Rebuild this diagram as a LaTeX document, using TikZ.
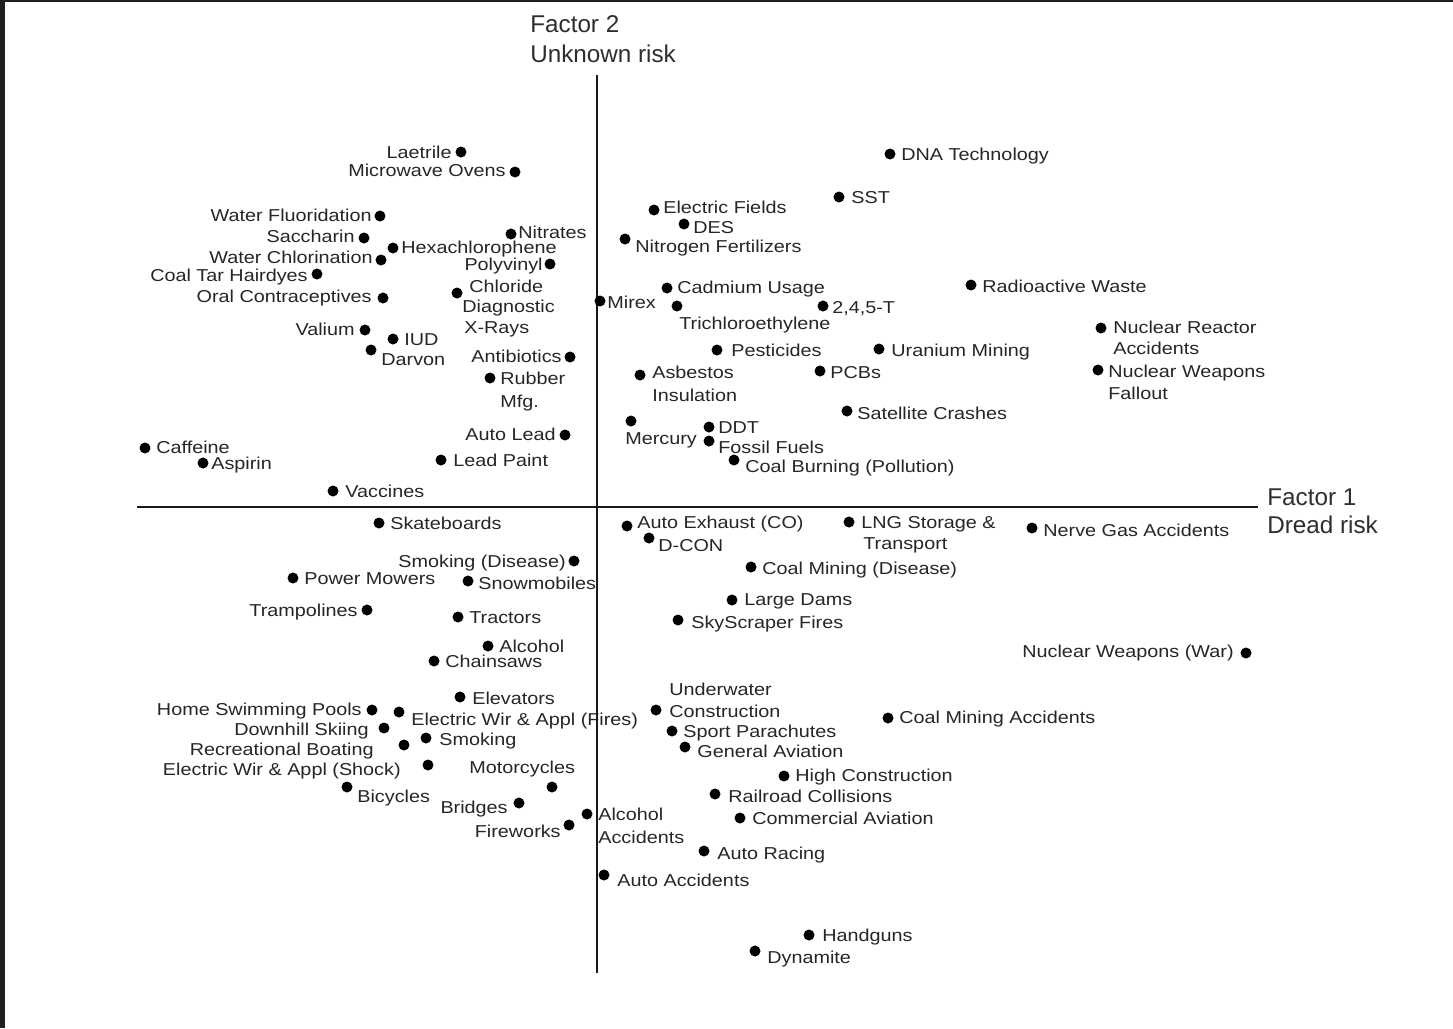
\documentclass[tikz,border=0pt]{standalone}
\usepackage{graphicx}
\usepackage{fontspec}
\setmainfont{Liberation Sans}
\newcommand\hz[1]{\scalebox{1.15}[1]{#1}}
\tikzset{
  dot/.style={circle, fill=black, inner sep=0pt, minimum size=0.22cm},
  lbl/.style={inner sep=0pt, text=black!85, font=\fontsize{9.8}{11.5}\selectfont},
  ll/.style={lbl, anchor=base west},
  lr/.style={lbl, anchor=base east},
  axlbl/.style={inner sep=0pt, anchor=base west, text=black!82, font=\fontsize{13.8}{16}\selectfont},
  axis/.style={line width=1pt, draw=black!90}
}
\begin{document}
\begin{tikzpicture}[x=0.02cm, y=-0.02cm]
\useasboundingbox (0,0) rectangle (1453,1028);
\fill[white] (0,0) rectangle (1453,1028);
\fill[black!88] (0,0) rectangle (5,1028);
\fill[black!88] (0,0) rectangle (1453,2);
% axes
\coordinate (vtop) at (597,75);
\coordinate (vbot) at (597,973);
\coordinate (hl) at (137,507);
\coordinate (hr) at (1258,507);
\draw[axis] (vtop) -- (vbot);
\draw[axis] (hl) -- (hr);
\node[axlbl] (f2a) at (530,32) {Factor 2};
\node[axlbl] (f2b) at (530,62) {Unknown risk};
\node[axlbl] (f1a) at (1267,505) {Factor 1};
\node[axlbl] (f1b) at (1267,533) {Dread risk};
% upper left
\node[dot] (d1) at (461,152) {}; \node[lr] (t1) at (452,158) {\hz{Laetrile}};
\node[dot] (d2) at (515,172) {}; \node[lr] (t2) at (506,176) {\hz{Microwave Ovens}};
\node[dot] (d3) at (380,216) {}; \node[lr] (t3) at (372,221) {\hz{Water Fluoridation}};
\node[dot] (d4) at (364,238) {}; \node[lr] (t4) at (355,242) {\hz{Saccharin}};
\node[dot] (d5) at (393,248) {}; \node[ll] (t5) at (401,253) {\hz{Hexachlorophene}};
\node[dot] (d6) at (381,260) {}; \node[lr] (t6) at (373,263) {\hz{Water Chlorination}};
\node[dot] (d7) at (317,274) {}; \node[lr] (t7) at (308,281) {\hz{Coal Tar Hairdyes}};
\node[dot] (d8) at (383,298) {}; \node[lr] (t8) at (372,302) {\hz{Oral Contraceptives}};
\node[dot] (d9) at (511,234) {}; \node[ll] (t9) at (518,238) {\hz{Nitrates}};
\node[dot] (d10) at (550,264) {}; \node[lr] (t10) at (543,270) {\hz{Polyvinyl}};
\node[ll] (t10b) at (469,292) {\hz{Chloride}};
\node[dot] (d10c) at (457,293) {};
\node[ll] (t10c) at (462,312) {\hz{Diagnostic}};
\node[ll] (t10d) at (464,333) {\hz{X-Rays}};
\node[dot] (d11) at (600,301) {}; \node[ll] (t11) at (607,308) {\hz{Mirex}};
\node[dot] (d12) at (365,330) {}; \node[lr] (t12) at (355,335) {\hz{Valium}};
\node[dot] (d13) at (393,339) {}; \node[ll] (t13) at (404,345) {\hz{IUD}};
\node[dot] (d14) at (371,350) {}; \node[ll] (t14) at (381,365) {\hz{Darvon}};
\node[dot] (d15) at (570,357) {}; \node[lr] (t15) at (562,362) {\hz{Antibiotics}};
\node[dot] (d16) at (490,378) {}; \node[ll] (t16) at (500,384) {\hz{Rubber}};
\node[ll] (t16b) at (500,407) {\hz{Mfg.}};
\node[dot] (d17) at (565,435) {}; \node[lr] (t17) at (556,440) {\hz{Auto Lead}};
\node[dot] (d18) at (441,460) {}; \node[ll] (t18) at (453,466) {\hz{Lead Paint}};
\node[dot] (d19) at (145,448) {}; \node[ll] (t19) at (156,453) {\hz{Caffeine}};
\node[dot] (d20) at (203,463) {}; \node[ll] (t20) at (211,469) {\hz{Aspirin}};
\node[dot] (d21) at (333,491) {}; \node[ll] (t21) at (345,497) {\hz{Vaccines}};
% upper right
\node[dot] (d22) at (890,154) {}; \node[ll] (t22) at (901,160) {\hz{DNA Technology}};
\node[dot] (d23) at (839,197) {}; \node[ll] (t23) at (851,203) {\hz{SST}};
\node[dot] (d24) at (654,210) {}; \node[ll] (t24) at (663,213) {\hz{Electric Fields}};
\node[dot] (d25) at (684,224) {}; \node[ll] (t25) at (693,233) {\hz{DES}};
\node[dot] (d26) at (625,239) {}; \node[ll] (t26) at (635,252) {\hz{Nitrogen Fertilizers}};
\node[dot] (d27) at (667,288) {}; \node[ll] (t27) at (677,293) {\hz{Cadmium Usage}};
\node[dot] (d28) at (677,306) {}; \node[ll] (t28) at (679,329) {\hz{Trichloroethylene}};
\node[dot] (d29) at (823,306) {}; \node[ll] (t29) at (832,313) {\hz{2,4,5-T}};
\node[dot] (d30) at (971,285) {}; \node[ll] (t30) at (982,292) {\hz{Radioactive Waste}};
\node[dot] (d31) at (1101,328) {}; \node[ll] (t31) at (1113,333) {\hz{Nuclear Reactor}};
\node[ll] (t31b) at (1113,354) {\hz{Accidents}};
\node[dot] (d32) at (1098,370) {}; \node[ll] (t32) at (1108,377) {\hz{Nuclear Weapons}};
\node[ll] (t32b) at (1108,399) {\hz{Fallout}};
\node[dot] (d33) at (717,350) {}; \node[ll] (t33) at (731,356) {\hz{Pesticides}};
\node[dot] (d34) at (879,349) {}; \node[ll] (t34) at (891,356) {\hz{Uranium Mining}};
\node[dot] (d35) at (640,375) {}; \node[ll] (t35) at (652,378) {\hz{Asbestos}};
\node[ll] (t35b) at (652,401) {\hz{Insulation}};
\node[dot] (d36) at (820,371) {}; \node[ll] (t36) at (830,378) {\hz{PCBs}};
\node[dot] (d37) at (847,411) {}; \node[ll] (t37) at (857,419) {\hz{Satellite Crashes}};
\node[dot] (d38) at (631,421) {}; \node[ll] (t38) at (625,444) {\hz{Mercury}};
\node[dot] (d39) at (709,427) {}; \node[ll] (t39) at (718,433) {\hz{DDT}};
\node[dot] (d40) at (709,441) {}; \node[ll] (t40) at (718,453) {\hz{Fossil Fuels}};
\node[dot] (d41) at (734,460) {}; \node[ll] (t41) at (745,472) {\hz{Coal Burning (Pollution)}};
% lower left
\node[dot] (d42) at (379,523) {}; \node[ll] (t42) at (390,529) {\hz{Skateboards}};
\node[dot] (d43) at (574,561) {}; \node[lr] (t43) at (566,567) {\hz{Smoking (Disease)}};
\node[dot] (d44) at (293,578) {}; \node[ll] (t44) at (304,584) {\hz{Power Mowers}};
\node[dot] (d45) at (468,581) {}; \node[ll] (t45) at (478,589) {\hz{Snowmobiles}};
\node[dot] (d46) at (367,610) {}; \node[lr] (t46) at (358,616) {\hz{Trampolines}};
\node[dot] (d47) at (458,617) {}; \node[ll] (t47) at (469,623) {\hz{Tractors}};
\node[dot] (d48) at (488,646) {}; \node[ll] (t48) at (499,652) {\hz{Alcohol}};
\node[dot] (d49) at (434,661) {}; \node[ll] (t49) at (445,667) {\hz{Chainsaws}};
\node[dot] (d50) at (460,697) {}; \node[ll] (t50) at (472,704) {\hz{Elevators}};
\node[dot] (d51) at (372,710) {}; \node[lr] (t51) at (362,715) {\hz{Home Swimming Pools}};
\node[dot] (d52) at (399,712) {}; \node[ll] (t52) at (411,725) {\hz{Electric Wir \& Appl (Fires)}};
\node[dot] (d53) at (384,728) {}; \node[lr] (t53) at (369,735) {\hz{Downhill Skiing}};
\node[dot] (d54) at (426,738) {}; \node[ll] (t54) at (439,745) {\hz{Smoking}};
\node[dot] (d55) at (404,745) {}; \node[lr] (t55) at (374,755) {\hz{Recreational Boating}};
\node[dot] (d56) at (428,765) {}; \node[lr] (t56) at (401,775) {\hz{Electric Wir \& Appl (Shock)}};
\node[dot] (d57) at (552,787) {}; \node[ll] (t57) at (469,773) {\hz{Motorcycles}};
\node[dot] (d58) at (347,787) {}; \node[ll] (t58) at (357,802) {\hz{Bicycles}};
\node[dot] (d59) at (519,803) {}; \node[lr] (t59) at (508,813) {\hz{Bridges}};
\node[dot] (d60) at (569,825) {}; \node[lr] (t60) at (561,837) {\hz{Fireworks}};
\node[dot] (d61) at (587,814) {}; \node[ll] (t61) at (598,820) {\hz{Alcohol}};
\node[ll] (t61b) at (598,843) {\hz{Accidents}};
% lower right
\node[dot] (d62) at (627,526) {}; \node[ll] (t62) at (637,528) {\hz{Auto Exhaust (CO)}};
\node[dot] (d63) at (649,538) {}; \node[ll] (t63) at (658,551) {\hz{D-CON}};
\node[dot] (d64) at (849,522) {}; \node[ll] (t64) at (861,528) {\hz{LNG Storage \&}};
\node[ll] (t64b) at (863,549) {\hz{Transport}};
\node[dot] (d65) at (1032,528) {}; \node[ll] (t65) at (1043,536) {\hz{Nerve Gas Accidents}};
\node[dot] (d66) at (751,567) {}; \node[ll] (t66) at (762,574) {\hz{Coal Mining (Disease)}};
\node[dot] (d67) at (732,600) {}; \node[ll] (t67) at (744,605) {\hz{Large Dams}};
\node[dot] (d68) at (678,620) {}; \node[ll] (t68) at (691,628) {\hz{SkyScraper Fires}};
\node[dot] (d69) at (1246,653) {}; \node[lr] (t69) at (1234,657) {\hz{Nuclear Weapons (War)}};
\node[dot] (d70) at (656,710) {}; \node[ll] (t70) at (669,695) {\hz{Underwater}};
\node[ll] (t70b) at (669,717) {\hz{Construction}};
\node[dot] (d71) at (888,718) {}; \node[ll] (t71) at (899,723) {\hz{Coal Mining Accidents}};
\node[dot] (d72) at (672,731) {}; \node[ll] (t72) at (683,737) {\hz{Sport Parachutes}};
\node[dot] (d73) at (685,747) {}; \node[ll] (t73) at (697,757) {\hz{General Aviation}};
\node[dot] (d74) at (784,776) {}; \node[ll] (t74) at (795,781) {\hz{High Construction}};
\node[dot] (d75) at (715,794) {}; \node[ll] (t75) at (728,802) {\hz{Railroad Collisions}};
\node[dot] (d76) at (740,818) {}; \node[ll] (t76) at (752,824) {\hz{Commercial Aviation}};
\node[dot] (d77) at (704,851) {}; \node[ll] (t77) at (717,859) {\hz{Auto Racing}};
\node[dot] (d78) at (604,875) {}; \node[ll] (t78) at (617,886) {\hz{Auto Accidents}};
\node[dot] (d79) at (809,935) {}; \node[ll] (t79) at (822,941) {\hz{Handguns}};
\node[dot] (d80) at (755,951) {}; \node[ll] (t80) at (767,963) {\hz{Dynamite}};
\end{tikzpicture}
\end{document}
